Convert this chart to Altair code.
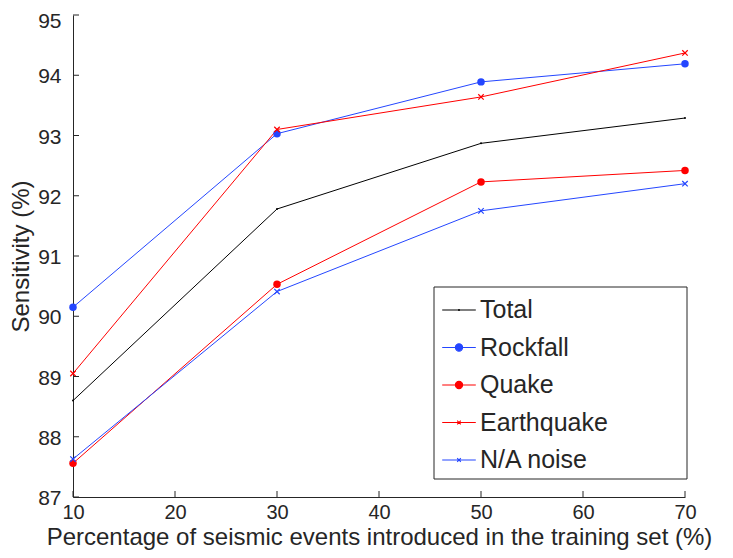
import altair as alt
import pandas as pd

# ---- data ----
x_vals = [10, 30, 50, 70]
total = [88.60, 91.78, 92.87, 93.29]
rockfall = [90.15, 93.03, 93.89, 94.19]
quake = [87.56, 90.53, 92.23, 92.42]
earthquake = [89.05, 93.10, 93.64, 94.37]
na_noise = [87.63, 90.41, 91.75, 92.20]

series_names = ["Total", "Rockfall", "Quake", "Earthquake", "N/A noise"]
series_values = [total, rockfall, quake, earthquake, na_noise]
series_colors = ["#000000", "#2446ff", "#ff0000", "#ff0000", "#2446ff"]
series_markers = ["dot", "circle", "circle", "x", "x"]

x_ticks = [10, 20, 30, 40, 50, 60, 70]
y_ticks = [87, 88, 89, 90, 91, 92, 93, 94, 95]

X_TITLE = "Percentage of seismic events introduced in the training set (%)"
Y_TITLE = "Sensitivity (%)"

FONT = "Liberation Sans"
AXIS_COLOR = "#262626"
W, H = 612, 482

rows = []
for name, vals, mk in zip(series_names, series_values, series_markers):
    for xv, yv in zip(x_vals, vals):
        rows.append({"pct": xv, "sens": yv, "series": name, "marker": mk})
df = pd.DataFrame(rows)

xs = alt.Scale(domain=[10, 70], nice=False, zero=False)
ys = alt.Scale(domain=[87, 95], nice=False, zero=False)
stroke_scale = alt.Scale(domain=series_names, range=series_colors)
fill_scale = alt.Scale(domain=series_names, range=series_colors)

# legend symbols: a short line with the marker in the middle
LINE = "M-1.2,0L1.2,0"
CIRC = "M-0.26,0A0.26,0.26 0 1,0 0.26,0A0.26,0.26 0 1,0 -0.26,0"
XMK = "M-0.13,-0.13L0.13,0.13M-0.13,0.13L0.13,-0.13"
DOT = "M-0.04,0A0.04,0.04 0 1,0 0.04,0A0.04,0.04 0 1,0 -0.04,0"
legend_paths = [LINE + DOT, LINE + CIRC, LINE + CIRC, LINE + XMK, LINE + XMK]
shape_scale = alt.Scale(domain=series_names, range=legend_paths)

X_MARK = "M-1,-1L1,1M-1,1L1,-1"

x_axis = alt.Axis(values=x_ticks, title=X_TITLE, format="d", labelFlush=False)
y_axis = alt.Axis(
    values=y_ticks, title=Y_TITLE, format="d", labelFlush=False,
    labelOffset={"condition": {"test": "datum.value == 95", "value": 6}, "value": 1.5},
)
x_enc = alt.X("pct:Q", scale=xs, axis=x_axis)
y_enc = alt.Y("sens:Q", scale=ys, axis=y_axis)

leg = alt.Legend(
    title=None,
    orient="none", legendX=361, legendY=272,
    symbolSize=784, symbolStrokeWidth=1.1, symbolOffset=2,
    labelFontSize=25, labelFont=FONT, labelColor=AXIS_COLOR,
    labelOffset=6, labelLimit=500,
    padding=8, rowPadding=9.5,
)
stroke_enc = alt.Stroke("series:N", scale=stroke_scale, legend=leg)
fill_enc = alt.Fill("series:N", scale=fill_scale, legend=leg)
shape_enc = alt.Shape("series:N", scale=shape_scale, legend=leg)

base = alt.Chart(df)

lines = base.mark_line(strokeWidth=1).encode(
    x=x_enc, y=y_enc, stroke=stroke_enc, order="pct:Q",
)

circles = base.transform_filter(alt.datum.marker == "circle").mark_circle(
    size=56, opacity=1
).encode(x=x_enc, y=y_enc, fill=fill_enc)

xmarks = base.transform_filter(alt.datum.marker == "x").mark_point(
    shape=X_MARK, size=30, strokeWidth=1.2, filled=False, opacity=1
).encode(x=x_enc, y=y_enc, stroke=stroke_enc)

dots = base.transform_filter(alt.datum.marker == "dot").mark_circle(
    size=4, opacity=1, color="#000000"
).encode(x=x_enc, y=y_enc)

legend_layer = base.transform_filter("false").mark_point(filled=False, opacity=1).encode(
    x=x_enc, y=y_enc, stroke=stroke_enc, fill=fill_enc, shape=shape_enc,
)

# legend frame (box drawn around the legend entries)
frame = alt.Chart(pd.DataFrame({"k": [0]})).mark_rect(
    fill="white", stroke=AXIS_COLOR, strokeWidth=1
).encode(
    x=alt.value(361), x2=alt.value(614), y=alt.value(272), y2=alt.value(464)
)

xtick_df = pd.DataFrame({"pct": x_ticks})
ytick_df = pd.DataFrame({"sens": y_ticks})
xtick_layer = alt.Chart(xtick_df).mark_rule(color=AXIS_COLOR, strokeWidth=1).encode(
    x=x_enc, y=alt.value(H), y2=alt.value(H - 6)
)
ytick_layer = alt.Chart(ytick_df).mark_rule(color=AXIS_COLOR, strokeWidth=1).encode(
    y=y_enc, x=alt.value(0), x2=alt.value(6)
)

chart = alt.layer(
    legend_layer, lines, circles, xmarks, dots, frame, xtick_layer, ytick_layer
).properties(
    width=W, height=H,
    autosize=alt.AutoSizeParams(type="none"),
    padding={"left": 65, "top": 7, "right": 40, "bottom": 53},
).configure_view(
    stroke=None
).configure_axis(
    grid=False, domainColor=AXIS_COLOR, domainWidth=1,
    ticks=False, labelFont=FONT, labelFontSize=21, labelColor=AXIS_COLOR,
    titleFont=FONT, titleFontSize=24, titleFontWeight="normal", titleColor=AXIS_COLOR,
).configure_axisX(
    labelPadding=5.5, labelFontSize=20, titlePadding=2.9
).configure_axisY(
    labelPadding=12, titlePadding=4
)

chart.save("out.html", embed_options={"renderer": "svg", "actions": False})
